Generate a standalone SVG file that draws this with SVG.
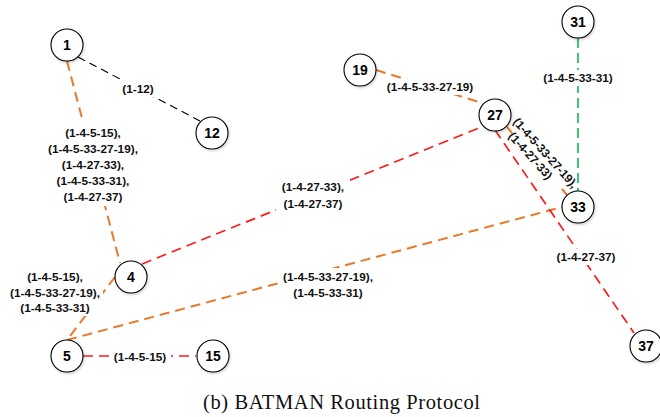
<svg xmlns="http://www.w3.org/2000/svg" width="660" height="417" viewBox="0 0 660 417">
<defs>
<filter id="sh" x="-30%" y="-30%" width="160%" height="160%">
<feDropShadow dx="1" dy="1.5" stdDeviation="1.2" flood-color="#000" flood-opacity="0.18"/>
</filter>
<style>
.n circle{fill:#fff;stroke:#000;stroke-width:1.1;filter:url(#sh)}
.n text{font-family:"Liberation Sans",Arial,sans-serif;font-weight:bold;font-size:14px;text-anchor:middle;fill:#000}
.e{fill:none}
.or{stroke:#E8792A;stroke-width:2;stroke-dasharray:10,6}
.rd{stroke:#FF1A1A;stroke-width:1.7;stroke-dasharray:10,6}
.bk{stroke:#000;stroke-width:1.1;stroke-dasharray:8,5}
.gr{stroke:#4DC07D;stroke-width:2.2;stroke-dasharray:10,5}
.lb{font-family:"Liberation Sans",Arial,sans-serif;font-weight:bold;font-size:11.8px;text-anchor:middle;fill:#111}
.bg{fill:#fff}
.cap{font-family:"Liberation Serif","Times New Roman",serif;font-size:20.5px;fill:#111}
</style>
</defs>
<rect width="660" height="417" fill="#fff"/>
<g id="connectors">
<line class="e bk" x1="78" y1="57" x2="200" y2="121"/>
<line class="e or" x1="67" y1="61" x2="120" y2="263"/>
<line class="e or" x1="115" y1="277" x2="67" y2="340"/>
<line class="e rd" x1="142" y1="264" x2="484" y2="126"/>
<line class="e or" x1="67" y1="340" x2="562" y2="207"/>
<line class="e rd" x1="83" y1="356" x2="196" y2="356"/>
<line class="e or" x1="376" y1="70" x2="482" y2="103"/>
<line class="e gr" x1="578" y1="38" x2="578" y2="191"/>
<line class="e or" x1="507" y1="127" x2="512" y2="133"/>
<line class="e or" x1="562" y1="189" x2="567" y2="195"/>
<line class="e rd" x1="495" y1="130" x2="634" y2="333"/>
</g>
<g id="labels">
<rect class="bg" x="119" y="81" width="38" height="16"/>
<text class="lb" x="138" y="93">(1-12)</text>
<rect class="bg" x="42" y="123" width="102" height="83"/>
<text class="lb" x="93" y="137">(1-4-5-15),</text>
<text class="lb" x="93" y="153">(1-4-5-33-27-19),</text>
<text class="lb" x="93" y="169">(1-4-27-33),</text>
<text class="lb" x="93" y="185">(1-4-5-33-31),</text>
<text class="lb" x="93" y="201">(1-4-27-37)</text>
<rect class="bg" x="5" y="268" width="98" height="48"/>
<text class="lb" x="55" y="281">(1-4-5-15),</text>
<text class="lb" x="55" y="297">(1-4-5-33-27-19),</text>
<text class="lb" x="55" y="312">(1-4-5-33-31)</text>
<rect class="bg" x="276" y="178" width="74" height="34"/>
<text class="lb" x="313" y="191">(1-4-27-33),</text>
<text class="lb" x="313" y="208">(1-4-27-37)</text>
<rect class="bg" x="278" y="268" width="100" height="33"/>
<text class="lb" x="328" y="281">(1-4-5-33-27-19),</text>
<text class="lb" x="328" y="297">(1-4-5-33-31)</text>
<rect class="bg" x="382" y="79" width="96" height="16"/>
<text class="lb" x="430" y="91">(1-4-5-33-27-19)</text>
<rect class="bg" x="539" y="70" width="78" height="16"/>
<text class="lb" x="578" y="82">(1-4-5-33-31)</text>
<rect class="bg" x="552" y="249" width="68" height="16"/>
<text class="lb" x="586" y="261">(1-4-27-37)</text>
<rect class="bg" x="109" y="349" width="62" height="16"/>
<text class="lb" x="140" y="361">(1-4-5-15)</text>
<g transform="translate(541,157) rotate(48)">
<text class="lb" x="0" y="-2">(1-4-5-33-27-19),</text>
<text class="lb" x="-8" y="11">(1-4-27-33)</text>
</g>
</g>
<g id="n1" class="n"><circle cx="67" cy="45" r="16"/><text x="67" y="50">1</text></g>
<g id="n12" class="n"><circle cx="212" cy="133" r="16"/><text x="212" y="138">12</text></g>
<g id="n19" class="n"><circle cx="360" cy="70" r="16"/><text x="360" y="75">19</text></g>
<g id="n27" class="n"><circle cx="495" cy="115" r="16"/><text x="495" y="120">27</text></g>
<g id="n31" class="n"><circle cx="578" cy="22" r="16"/><text x="578" y="27">31</text></g>
<g id="n33" class="n"><circle cx="578" cy="207" r="16"/><text x="578" y="212">33</text></g>
<g id="n4" class="n"><circle cx="131" cy="277" r="16"/><text x="131" y="282">4</text></g>
<g id="n5" class="n"><circle cx="67" cy="356" r="16"/><text x="67" y="361">5</text></g>
<g id="n15" class="n"><circle cx="213" cy="356" r="16"/><text x="213" y="361">15</text></g>
<g id="n37" class="n"><circle cx="646" cy="346" r="16"/><text x="646" y="351">37</text></g>
<text class="cap" x="203" y="409" textLength="277" lengthAdjust="spacing">(b)  BATMAN Routing Protocol</text>
</svg>
